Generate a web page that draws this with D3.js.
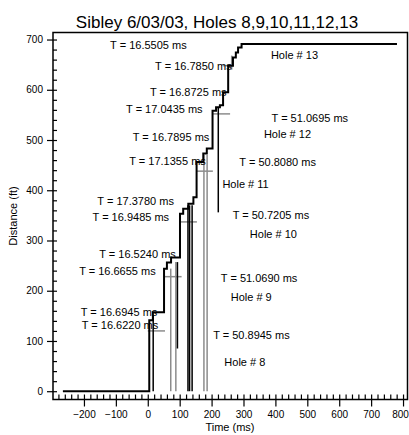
<!DOCTYPE html>
<html>
<head>
<meta charset="utf-8">
<script src="https://cdn.jsdelivr.net/npm/d3@7"></script>
<style>
  body { margin: 0; background: #fff; }
  text { font-family: "Liberation Sans", Arial, sans-serif; fill: #000; }
</style>
</head>
<body>
<svg id="chart" width="409" height="435"></svg>
<script>
// main (black) trace: time (ms) where each step rises, distance (ft) after the rise
var stairTime = [-266, 4.7, 16, 51, 60, 73, 101, 111, 127, 143, 153, 174, 185, 203, 214, 226, 236, 252, 267, 276, 283, 294, 781];
var stairDist = [0, 141, 157, 244, 256, 266, 353, 363, 373, 386, 456, 473, 483, 558, 565, 569, 595, 648, 664, 674, 684, 691, 691];

// vertical traces down to the shot line
var blackDropTime = [17, 93, 126, 131, 139, 221];
var blackDropLow  = [0, 85, 0, 0, 0, 356];
var blackDropHigh = [150, 257, 370, 370, 370, 565];

var grayDropTime = [72, 88, 176, 186, 263];
var grayDropLow  = [0, 0, 0, 0, 640];
var grayDropHigh = [244, 257, 470, 470, 668];

// gray marker bars for each hole
var markDist  = [120, 228, 337, 438, 552, 648];
var markStart = [0, 51, 101, 153, 204, 236];
var markEnd   = [54, 106, 154, 204, 258, 267];

// annotations (time, distance of text start)
var leftLabels = ["T = 16.5505 ms", "T = 16.7850 ms", "T = 16.8725 ms", "T = 17.0435 ms",
  "T = 16.7895 ms", "T = 17.1355 ms", "T = 17.3780 ms", "T = 16.9485 ms",
  "T = 16.5240 ms", "T = 16.6655 ms", "T = 16.6945 ms", "T = 16.6220 ms"];
var leftLabelTime = [-118, 23, 7, -68, -47, -58, -158, -173, -152, -215, -210, -207];
var leftLabelDist = [682, 640, 587, 553, 498, 451, 370, 338, 265, 232, 149, 124];

var rightLabels = ["Hole # 13", "T = 51.0695 ms", "Hole # 12", "T = 50.8080 ms", "Hole # 11",
  "T = 50.7205 ms", "Hole # 10", "T = 51.0690 ms", "Hole # 9", "T = 50.8945 ms", "Hole # 8"];
var rightLabelTime = [386, 388, 364, 287, 234, 266, 320, 229, 260, 205, 240];
var rightLabelDist = [662, 535, 504, 449, 405, 343, 304, 218, 180, 103, 51];

var xMajor = [-200, -100, 0, 100, 200, 300, 400, 500, 600, 700, 800];
var yMajor = [0, 100, 200, 300, 400, 500, 600, 700];

var svg = d3.select("#chart");

var x = d3.scaleLinear().domain([-297, 814]).range([53, 407.5]);
var y = d3.scaleLinear().domain([-16.5, 714]).range([399.5, 32.5]);

// title + axis titles
svg.append("text")
  .attr("x", 217).attr("y", 28)
  .attr("text-anchor", "middle")
  .attr("font-size", 17)
  .text("Sibley 6/03/03, Holes 8,9,10,11,12,13");

svg.append("text")
  .attr("x", 230).attr("y", 431)
  .attr("text-anchor", "middle")
  .attr("font-size", 11)
  .text("Time (ms)");

svg.append("text")
  .attr("transform", "translate(17,216) rotate(-90)")
  .attr("text-anchor", "middle")
  .attr("font-size", 11)
  .text("Distance (ft)");

// axes
var xMinor = d3.axisBottom(x).tickValues(d3.range(-280, 801, 20)).tickSize(-5).tickFormat("");
var xAx = d3.axisBottom(x).tickValues(xMajor).tickSize(7).tickPadding(4);
var yMinor = d3.axisLeft(y).tickValues(d3.range(0, 701, 20)).tickSize(-4).tickFormat("");
var yAx = d3.axisLeft(y).tickValues(yMajor).tickSize(6).tickPadding(4);

function styleAxis(g) {
  g.select(".domain").remove();
  g.selectAll("line").attr("stroke", "#000").attr("stroke-width", 1.2);
  g.selectAll("text").attr("font-size", 10).attr("font-family", "Liberation Sans, Arial, sans-serif");
}

var gx = svg.append("g").attr("transform", "translate(0,399.5)");
svg.append("g").attr("transform", "translate(0,399.5)").call(xMinor).call(styleAxis);
gx.call(xAx).call(styleAxis);
// last label sits against the window edge
gx.selectAll(".tick text").filter(function(d) { return d === 800; }).attr("dx", -3);
svg.append("g").attr("transform", "translate(53,0)").call(yMinor).call(styleAxis);
svg.append("g").attr("transform", "translate(53,0)").call(yAx).call(styleAxis);

// frame
svg.append("rect")
  .attr("x", 53).attr("y", 32.5)
  .attr("width", 407.5 - 53).attr("height", 399.5 - 32.5)
  .attr("fill", "none").attr("stroke", "#000").attr("stroke-width", 1.5);

var plot = svg.append("g");

// gray drops
plot.selectAll(".gdrop")
  .data(grayDropTime)
  .enter().append("line")
  .attr("class", "gdrop")
  .attr("x1", function(d) { return x(d); })
  .attr("x2", function(d) { return x(d); })
  .attr("y1", function(d, i) { return y(grayDropLow[i]); })
  .attr("y2", function(d, i) { return y(grayDropHigh[i]); })
  .attr("stroke", "#8c8c8c").attr("stroke-width", 1.5);

// gray markers
plot.selectAll(".mark")
  .data(markDist)
  .enter().append("line")
  .attr("class", "mark")
  .attr("x1", function(d, i) { return x(markStart[i]); })
  .attr("x2", function(d, i) { return x(markEnd[i]); })
  .attr("y1", function(d) { return y(d); })
  .attr("y2", function(d) { return y(d); })
  .attr("stroke", "#8c8c8c").attr("stroke-width", 1.5);

// black drops
plot.selectAll(".bdrop")
  .data(blackDropTime)
  .enter().append("line")
  .attr("class", "bdrop")
  .attr("x1", function(d) { return x(d); })
  .attr("x2", function(d) { return x(d); })
  .attr("y1", function(d, i) { return y(blackDropLow[i]); })
  .attr("y2", function(d, i) { return y(blackDropHigh[i]); })
  .attr("stroke", "#000").attr("stroke-width", 1.5);

// main staircase
var stair = stairTime.map(function(t, i) { return [t, stairDist[i]]; });
var line = d3.line()
  .x(function(d) { return x(d[0]); })
  .y(function(d) { return y(d[1]); })
  .curve(d3.curveStepAfter);

plot.append("path")
  .datum(stair)
  .attr("d", line)
  .attr("fill", "none")
  .attr("stroke", "#000")
  .attr("stroke-width", 2);

// labels
plot.selectAll(".ll")
  .data(leftLabels)
  .enter().append("text")
  .attr("class", "ll")
  .attr("x", function(d, i) { return x(leftLabelTime[i]); })
  .attr("y", function(d, i) { return y(leftLabelDist[i]); })
  .attr("font-size", 11)
  .text(function(d) { return d; });

plot.selectAll(".rl")
  .data(rightLabels)
  .enter().append("text")
  .attr("class", "rl")
  .attr("x", function(d, i) { return x(rightLabelTime[i]); })
  .attr("y", function(d, i) { return y(rightLabelDist[i]); })
  .attr("font-size", 11)
  .text(function(d) { return d; });
</script>
</body>
</html>
